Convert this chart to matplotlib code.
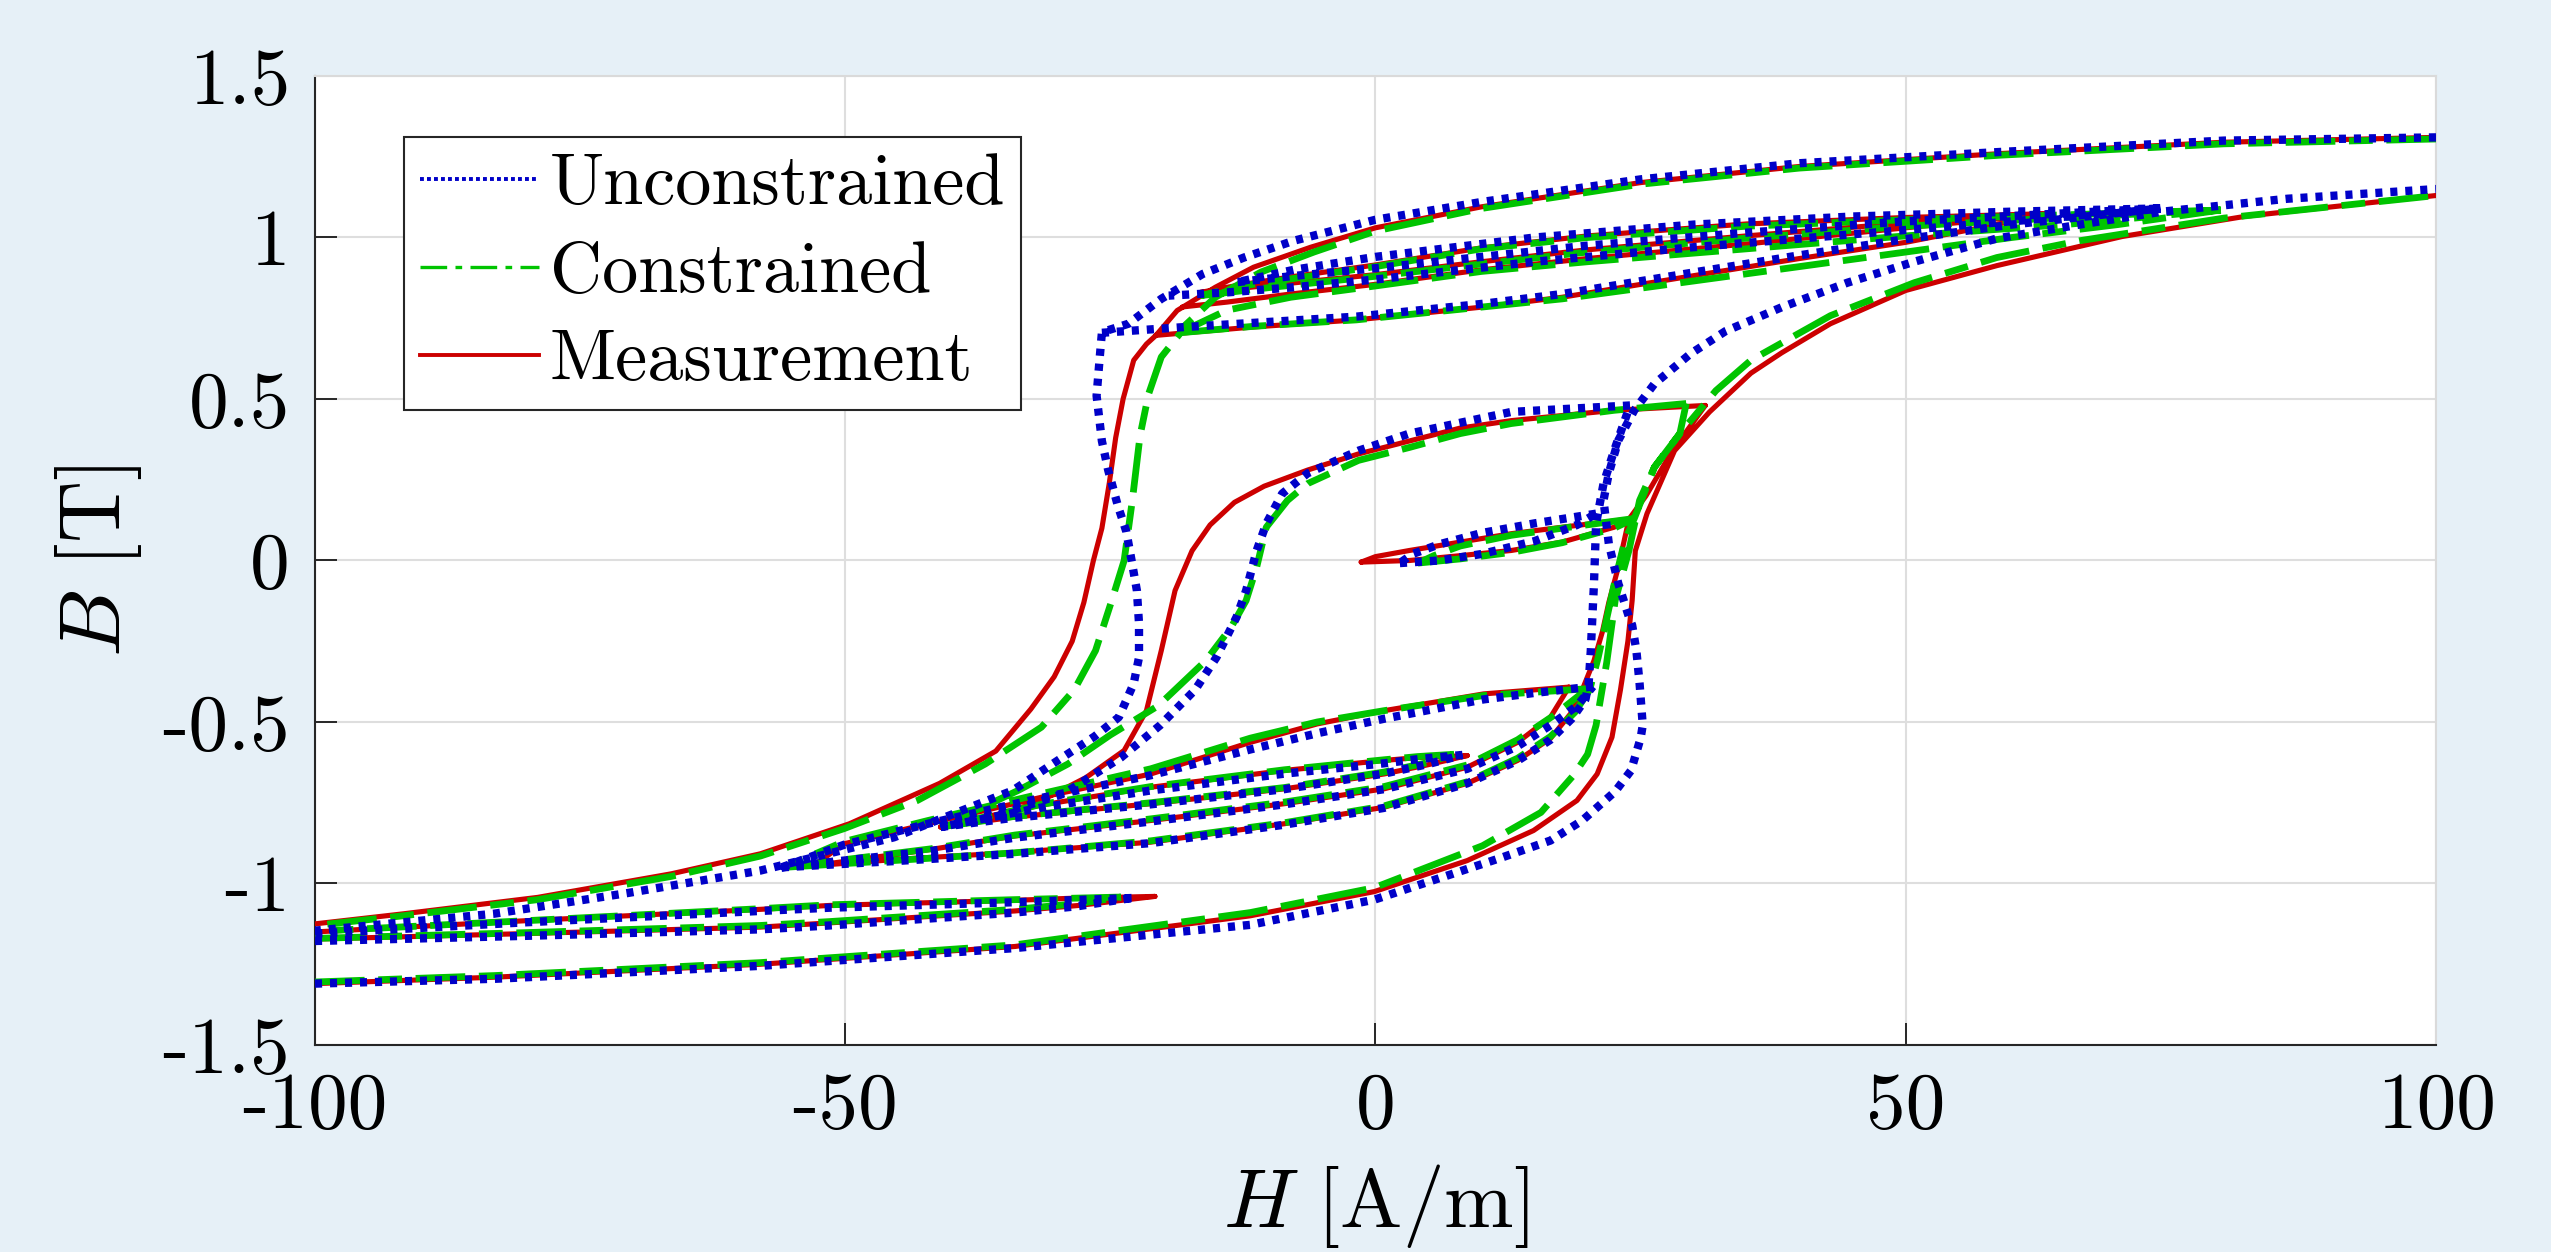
import numpy as np
import matplotlib
matplotlib.use("Agg")
import matplotlib.pyplot as plt
from matplotlib.lines import Line2D

plt.rcParams['mathtext.fontset'] = 'cm'
plt.rcParams['axes.unicode_minus'] = False

# ---------------- data (H [A/m], B [T]) ----------------
# Measurement branches
MEAS_R1_H = [100, 80, 59, 40, 25, 10, 0, -6.1, -11.5, -15.1, -18.7, -20.7, -21.6, -22.8, -23.8, -24.5, -25.1, -25.8, -26.6, -27.5, -28.6, -30.3, -32.5, -35.8, -41.1, -49.6, -58, -66.4, -79, -91.7, -100]
MEAS_R1_B = [1.31, 1.295, 1.26, 1.22, 1.17, 1.095, 1.03, 0.97, 0.908, 0.846, 0.774, 0.697, 0.67, 0.62, 0.50, 0.38, 0.24, 0.10, 0.0, -0.13, -0.25, -0.36, -0.46, -0.59, -0.69, -0.815, -0.908, -0.97, -1.043, -1.094, -1.125]
MEAS_R2_H = [31.1, 22.5, 12.8, 8, 3.2, -1.6, -6.4, -10.5, -13.3, -15.6, -17.3, -18.9, -20.2, -21.6, -23.7, -27.3, -31.5, -36.8, -41]
MEAS_R2_B = [0.48, 0.465, 0.433, 0.41, 0.37, 0.33, 0.28, 0.23, 0.18, 0.11, 0.03, -0.093, -0.279, -0.465, -0.588, -0.672, -0.743, -0.805, -0.825]
MEAS_T2U_H = [8.65, 4, 0.8, -8.6, -21.2, -31.5, -37, -41]
MEAS_T2U_B = [-0.604, -0.61, -0.619, -0.650, -0.702, -0.757, -0.795, -0.825]
MEAS_T2L_H = [-41, -34.2, -21.2, -8.6, 0.8, 5, 8.65]
MEAS_T2L_B = [-0.825, -0.795, -0.753, -0.707, -0.661, -0.632, -0.604]
MEAS_T1U_H = [18.24, 10.2, 0.8, -5.5, -11.8, -21.2, -31.5, -42.2, -50.1, -53]
MEAS_T1U_B = [-0.392, -0.413, -0.465, -0.506, -0.563, -0.661, -0.733, -0.815, -0.877, -0.945]
MEAS_T1L_H = [-53, -42, -34, -21.2, -8.6, 0.8, 8.65, 13.4, 16.5, 18.24]
MEAS_T1L_B = [-0.945, -0.895, -0.853, -0.805, -0.753, -0.707, -0.64, -0.563, -0.485, -0.392]
MEAS_V_H = [-53, -45, -34, -21.2, -8.6, 0.8, 8.65, 13.4, 16.5, 18.4, 19.6, 20.6, 21.4, 22.0, 22.9, 23.9, 25.5, 28, 31.1]
MEAS_V_B = [-0.945, -0.925, -0.904, -0.872, -0.815, -0.764, -0.69, -0.619, -0.551, -0.474, -0.392, -0.31, -0.22, -0.13, -0.02, 0.128, 0.2, 0.34, 0.48]
MEAS_SLU_H = [23.9, 17.6, 12.8, 8, 3.2, 0, -1.35]
MEAS_SLU_B = [0.128, 0.103, 0.083, 0.057, 0.031, 0.012, -0.005]
MEAS_SLL_H = [-1.35, 3.2, 8, 12.8, 17.6, 22.5, 23.9]
MEAS_SLL_B = [-0.005, 0.0, 0.015, 0.031, 0.057, 0.103, 0.128]
MEAS_TLU_H = [-20.8, -28, -34, -51.5, -58, -80, -100]
MEAS_TLU_B = [-1.04, -1.045, -1.052, -1.068, -1.08, -1.115, -1.15]
MEAS_TLL_H = [-100, -80, -58, -51.5, -34, -28, -20.8]
MEAS_TLL_B = [-1.172, -1.155, -1.135, -1.122, -1.085, -1.068, -1.04]
MEAS_MA_H = [-100, -83, -58, -34, -11.8, -0.1, 8.65, 14.9, 19, 20.9, 22.3, 23.1, 23.8, 24.2, 24.5, 25.6, 28.2, 31.5, 35.4, 38.3, 42.9, 50, 58.6, 70.4, 82.1, 100]
MEAS_MA_B = [-1.31, -1.29, -1.25, -1.195, -1.10, -1.025, -0.929, -0.836, -0.743, -0.661, -0.547, -0.40, -0.25, -0.124, 0.03, 0.145, 0.34, 0.46, 0.58, 0.643, 0.733, 0.836, 0.913, 1.003, 1.066, 1.13]
MEAS_UA_H = [-20.7, -11.5, -1.8, 10.2, 17.6, 30.6, 40, 50, 57, 63.6]
MEAS_UA_B = [0.697, 0.723, 0.745, 0.785, 0.815, 0.885, 0.935, 0.985, 1.03, 1.074]
MEAS_UD1_H = [63.6, 50, 35, 20, 10, 0, -8, -13, -16.5]
MEAS_UD1_B = [1.074, 1.062, 1.042, 1.005, 0.968, 0.915, 0.878, 0.852, 0.83]
MEAS_UA1_H = [-16.5, -10, 0, 10, 20, 35, 50, 63.6]
MEAS_UA1_B = [0.83, 0.852, 0.885, 0.925, 0.962, 1.005, 1.045, 1.074]
MEAS_UD2_H = [63.6, 50, 35, 20, 10, 0, -8, -14, -18.2]
MEAS_UD2_B = [1.074, 1.03, 0.98, 0.935, 0.9, 0.855, 0.825, 0.80, 0.785]

# Constrained model branches
CON_R1_H = [100, 80, 59, 40, 25, 10, 0, -5.8, -10.8, -15.1, -17.9, -18.5, -20.2, -21.4, -22.2, -22.9, -23.7, -24.9, -26.4, -28.4, -31.5, -36.8, -43.2, -50.1, -58, -66.4, -79, -91.7, -100]
CON_R1_B = [1.305, 1.29, 1.255, 1.215, 1.165, 1.09, 1.02, 0.955, 0.893, 0.815, 0.73, 0.70, 0.63, 0.515, 0.387, 0.194, 0.0, -0.127, -0.279, -0.40, -0.516, -0.63, -0.743, -0.83, -0.915, -0.978, -1.05, -1.10, -1.13]
CON_R2_H = [29.3, 22.5, 12.8, 8, 3.2, -1.6, -6.4, -8.3, -10.3, -11.2, -12.2, -13.6, -16, -20.5, -25, -29, -33.7, -41]
CON_R2_B = [0.486, 0.465, 0.424, 0.393, 0.35, 0.31, 0.238, 0.186, 0.103, -0.02, -0.124, -0.206, -0.31, -0.45, -0.54, -0.63, -0.712, -0.825]
CON_T2U_H = [7.4, 4, 0.8, -8.6, -21.2, -31.5, -37, -41]
CON_T2U_B = [-0.600, -0.607, -0.617, -0.648, -0.700, -0.755, -0.795, -0.825]
CON_T2L_H = [-41, -34.2, -21.2, -8.6, 0.8, 5, 7.4]
CON_T2L_B = [-0.825, -0.793, -0.750, -0.703, -0.655, -0.625, -0.600]
CON_T1U_H = [20, 10.2, 0.8, -5.5, -11.8, -21.2, -31.5, -42.2, -50.1, -55.8]
CON_T1U_B = [-0.397, -0.418, -0.465, -0.5, -0.55, -0.645, -0.722, -0.805, -0.87, -0.95]
CON_T1L_H = [-55.8, -42, -34, -21.2, -8.6, 0.8, 8.65, 13.4, 16.8, 20]
CON_T1L_B = [-0.95, -0.893, -0.85, -0.80, -0.748, -0.70, -0.633, -0.555, -0.48, -0.397]
CON_V_H = [-55.8, -45, -34, -21.2, -8.6, 0.8, 8.65, 13.4, 16.5, 18.8, 20.2, 21.0, 21.8, 22.6, 23.5, 24.4, 26.3, 28.7, 29.3]
CON_V_B = [-0.95, -0.928, -0.905, -0.868, -0.812, -0.76, -0.685, -0.612, -0.545, -0.47, -0.40, -0.30, -0.18, -0.06, 0.06, 0.13, 0.289, 0.393, 0.486]
CON_SLU_H = [24.4, 17.6, 12.8, 8, 5.5, 4]
CON_SLU_B = [0.13, 0.10, 0.078, 0.045, 0.015, -0.008]
CON_SLL_H = [4, 8, 12.8, 17.6, 22.5, 24.4]
CON_SLL_B = [-0.008, 0.005, 0.025, 0.055, 0.10, 0.13]
CON_TLU_H = [-24, -34, -51.5, -58, -80, -100]
CON_TLU_B = [-1.042, -1.05, -1.066, -1.078, -1.115, -1.148]
CON_TLL_H = [-100, -80, -58, -51.5, -34, -28, -24]
CON_TLL_B = [-1.17, -1.152, -1.13, -1.118, -1.08, -1.062, -1.042]
CON_MA_H = [-100, -83, -58, -34, -11.8, -0.1, 10.1, 15.6, 18.7, 20.0, 20.8, 21.3, 21.8, 22.6, 23.9, 24.9, 26.3, 28.7, 32.1, 35.4, 42.9, 50.8, 58.6, 66.4, 80, 100]
CON_MA_B = [-1.305, -1.285, -1.245, -1.19, -1.09, -1.013, -0.883, -0.78, -0.664, -0.60, -0.51, -0.413, -0.316, -0.124, 0.031, 0.186, 0.289, 0.393, 0.526, 0.62, 0.758, 0.86, 0.938, 0.99, 1.06, 1.13]
CON_UA_H = [-18.5, -11.5, -1.8, 10.2, 17.6, 30.6, 40, 50, 60, 70, 79.7]
CON_UA_B = [0.705, 0.725, 0.745, 0.785, 0.81, 0.868, 0.91, 0.955, 1.0, 1.04, 1.085]
CON_UD1_H = [79.7, 65, 50, 35, 20, 10, 0, -8, -13, -16.5]
CON_UD1_B = [1.085, 1.07, 1.055, 1.035, 1.0, 0.965, 0.91, 0.872, 0.848, 0.82]
CON_UA1_H = [-16.5, -10, 0, 10, 20, 35, 50, 65, 79.7]
CON_UA1_B = [0.82, 0.845, 0.88, 0.918, 0.955, 0.998, 1.035, 1.062, 1.085]
CON_UD2_H = [79.7, 65, 50, 35, 20, 10, 0, -8, -14, -18.5]
CON_UD2_B = [1.085, 1.04, 1.005, 0.965, 0.925, 0.895, 0.85, 0.815, 0.775, 0.705]

# Unconstrained model branches
UNC_R1_H = [100, 80, 59, 40, 25, 10, 0, -7.7, -12.4, -16.3, -20.2, -23.3, -25.3, -25.8, -26.0, -26.3, -25.8, -25.2, -24.3, -23.5, -23.0, -22.5, -22.3, -22.3, -22.8, -24.2, -26.5, -30, -34.2, -45.4, -58, -70.6, -83.2, -100]
UNC_R1_B = [1.31, 1.3, 1.265, 1.23, 1.18, 1.11, 1.055, 0.99, 0.938, 0.887, 0.81, 0.733, 0.712, 0.705, 0.63, 0.51, 0.37, 0.279, 0.17, 0.09, 0.0, -0.093, -0.195, -0.3, -0.381, -0.485, -0.545, -0.62, -0.712, -0.857, -0.96, -1.03, -1.094, -1.146]
UNC_R2_H = [24, 12.8, 3.2, -1.6, -6.4, -8.8, -10.3, -11.2, -12.2, -13.1, -15, -17, -20.3, -24, -29.4, -35.3, -41]
UNC_R2_B = [0.48, 0.46, 0.393, 0.34, 0.27, 0.207, 0.114, 0.031, -0.093, -0.175, -0.30, -0.40, -0.51, -0.61, -0.722, -0.785, -0.825]
UNC_T2U_H = [8.2, 4, 0.8, -8.6, -21.2, -31.5, -37, -41]
UNC_T2U_B = [-0.602, -0.615, -0.628, -0.66, -0.712, -0.765, -0.80, -0.825]
UNC_T2L_H = [-41, -34.2, -21.2, -8.6, 0.8, 5, 8.2]
UNC_T2L_B = [-0.825, -0.797, -0.755, -0.708, -0.66, -0.63, -0.602]
UNC_T1U_H = [20.5, 15, 10.2, 0.8, -5.5, -11.8, -21.2, -31.5, -42.2, -50.1, -56]
UNC_T1U_B = [-0.39, -0.41, -0.43, -0.49, -0.535, -0.585, -0.665, -0.735, -0.815, -0.88, -0.95]
UNC_T1L_H = [-56, -42, -34, -21.2, -8.6, 0.8, 8.65, 13.4, 16.5, 19, 20.5]
UNC_T1L_B = [-0.95, -0.9, -0.858, -0.808, -0.755, -0.708, -0.645, -0.575, -0.51, -0.45, -0.39]
UNC_V_H = [-56, -45, -34, -21.2, -8.6, 0.8, 8.65, 13.4, 16.5, 18.5, 19.8, 20.1, 20.3, 20.6, 20.8, 21.5, 22.5, 24.0]
UNC_V_B = [-0.95, -0.93, -0.908, -0.875, -0.818, -0.766, -0.69, -0.62, -0.555, -0.49, -0.43, -0.38, -0.279, -0.072, 0.114, 0.238, 0.34, 0.48]
UNC_SLU_H = [20.8, 15, 10, 6, 3.5, 2.3]
UNC_SLU_B = [0.145, 0.115, 0.085, 0.05, 0.02, -0.008]
UNC_SLL_H = [2.3, 6, 10, 15, 19, 20.8]
UNC_SLL_B = [-0.008, 0.0, 0.02, 0.06, 0.11, 0.145]
UNC_TLU_H = [-23, -34, -51.5, -58, -80, -100]
UNC_TLU_B = [-1.045, -1.058, -1.075, -1.085, -1.12, -1.155]
UNC_TLL_H = [-100, -80, -58, -51.5, -34, -28, -23]
UNC_TLL_B = [-1.178, -1.162, -1.142, -1.13, -1.09, -1.07, -1.045]
UNC_MA_H = [-100, -83, -58, -34, -11.8, -0.1, 11.7, 16.5, 19.5, 22.6, 24.1, 25.0, 25.2, 24.9, 24.6, 24.2, 23.9, 22.9, 22.0, 21.5, 22.0, 22.9, 24.4, 26.3, 29.7, 33, 38.3, 44.5, 50.8, 58.6, 66.4, 74.2, 86, 100]
UNC_MA_B = [-1.31, -1.295, -1.255, -1.2, -1.128, -1.05, -0.922, -0.867, -0.805, -0.715, -0.65, -0.55, -0.51, -0.38, -0.279, -0.2, -0.175, -0.072, 0.052, 0.186, 0.27, 0.372, 0.465, 0.547, 0.64, 0.71, 0.784, 0.86, 0.925, 0.997, 1.04, 1.08, 1.12, 1.15]
UNC_UA_H = [-25.8, -17.9, -1.8, 10.2, 17.6, 30.6, 40, 50, 60, 74]
UNC_UA_B = [0.705, 0.723, 0.755, 0.795, 0.825, 0.895, 0.945, 0.995, 1.04, 1.09]
UNC_UD1_H = [74, 60, 45, 30, 15, 0, -7.7, -13]
UNC_UD1_B = [1.09, 1.08, 1.065, 1.04, 1.0, 0.94, 0.9, 0.862]
UNC_UA1_H = [-13, -8, 0, 10, 20, 35, 50, 62, 74]
UNC_UA1_B = [0.862, 0.88, 0.905, 0.94, 0.975, 1.015, 1.05, 1.07, 1.09]
UNC_UD2_H = [74, 60, 45, 30, 15, 0, -8, -14, -19.5]
UNC_UD2_B = [1.09, 1.05, 1.01, 0.97, 0.925, 0.87, 0.845, 0.83, 0.82]

LEGEND_LABELS = ['Unconstrained', 'Constrained', 'Measurement']
X_TICKS = [-100, -50, 0, 50, 100]
X_TICKLABELS = ['-100', '-50', '0', '50', '100']
Y_TICKS = [-1.5, -1, -0.5, 0, 0.5, 1, 1.5]
Y_TICKLABELS = ['-1.5', '-1', '-0.5', '0', '0.5', '1', '1.5']

MEAS = [(MEAS_R1_H, MEAS_R1_B), (MEAS_R2_H, MEAS_R2_B), (MEAS_T2U_H, MEAS_T2U_B), (MEAS_T2L_H, MEAS_T2L_B),
        (MEAS_T1U_H, MEAS_T1U_B), (MEAS_T1L_H, MEAS_T1L_B), (MEAS_V_H, MEAS_V_B), (MEAS_SLU_H, MEAS_SLU_B),
        (MEAS_SLL_H, MEAS_SLL_B), (MEAS_TLU_H, MEAS_TLU_B), (MEAS_TLL_H, MEAS_TLL_B), (MEAS_MA_H, MEAS_MA_B),
        (MEAS_UA_H, MEAS_UA_B), (MEAS_UD1_H, MEAS_UD1_B), (MEAS_UA1_H, MEAS_UA1_B), (MEAS_UD2_H, MEAS_UD2_B)]
CON = [(CON_R1_H, CON_R1_B), (CON_R2_H, CON_R2_B), (CON_T2U_H, CON_T2U_B), (CON_T2L_H, CON_T2L_B),
       (CON_T1U_H, CON_T1U_B), (CON_T1L_H, CON_T1L_B), (CON_V_H, CON_V_B), (CON_SLU_H, CON_SLU_B),
       (CON_SLL_H, CON_SLL_B), (CON_TLU_H, CON_TLU_B), (CON_TLL_H, CON_TLL_B), (CON_MA_H, CON_MA_B),
       (CON_UA_H, CON_UA_B), (CON_UD1_H, CON_UD1_B), (CON_UA1_H, CON_UA1_B), (CON_UD2_H, CON_UD2_B)]
UNC = [(UNC_R1_H, UNC_R1_B), (UNC_R2_H, UNC_R2_B), (UNC_T2U_H, UNC_T2U_B), (UNC_T2L_H, UNC_T2L_B),
       (UNC_T1U_H, UNC_T1U_B), (UNC_T1L_H, UNC_T1L_B), (UNC_V_H, UNC_V_B), (UNC_SLU_H, UNC_SLU_B),
       (UNC_SLL_H, UNC_SLL_B), (UNC_TLU_H, UNC_TLU_B), (UNC_TLL_H, UNC_TLL_B), (UNC_MA_H, UNC_MA_B),
       (UNC_UA_H, UNC_UA_B), (UNC_UD1_H, UNC_UD1_B), (UNC_UA1_H, UNC_UA1_B), (UNC_UD2_H, UNC_UD2_B)]


def join(branches):
    hs, bs = [], []
    for h, b in branches:
        hs.extend(h + [np.nan])
        bs.extend(b + [np.nan])
    return np.array(hs), np.array(bs)


RED = '#CC0000'
GREEN = '#00C400'
BLUE = '#0000C8'
BG = '#E6F0F7'

fig = plt.figure(figsize=(25.51, 12.52), dpi=100, facecolor=BG)
ax = fig.add_axes([0.12348, 0.16534, 0.83144, 0.77396])
ax.set_facecolor('white')

h, b = join(MEAS)
ax.plot(h, b, color=RED, lw=3.7, solid_joinstyle='round', solid_capstyle='round', zorder=3)
h, b = join(CON)
ax.plot(h, b, color=GREEN, lw=4.9, linestyle=(0, (7.3, 2.0, 3.5, 2.0)), zorder=4)
h, b = join(UNC)
ax.plot(h, b, color=BLUE, lw=6.0, linestyle=(0, (0.85, 0.95)), zorder=5)

ax.set_xlim(-100, 100)
ax.set_ylim(-1.5, 1.5)
ax.set_xticks(X_TICKS)
ax.set_xticklabels(X_TICKLABELS, fontfamily='cmr10', fontsize=57)
ax.set_yticks(Y_TICKS)
ax.set_yticklabels(Y_TICKLABELS, fontfamily='cmr10', fontsize=57)
ax.tick_params(direction='in', length=15.5, width=1.4, color='#262626', pad=18)
ax.tick_params(axis='x', pad=20)
ax.tick_params(top=False, right=False)
ax.grid(True, color='#DEDEDE', lw=1.5)
ax.set_axisbelow(True)
for s in ['left', 'bottom']:
    ax.spines[s].set_color('#262626')
    ax.spines[s].set_linewidth(1.5)
for s in ['top', 'right']:
    ax.spines[s].set_color('#DADADA')
    ax.spines[s].set_linewidth(1.5)

ax.set_xlabel(r'$H\ [\mathrm{A/m}]$', fontsize=60, va='center')
ax.xaxis.set_label_coords(0.5, -0.166)
ax.set_ylabel(r'$B\ [\mathrm{T}]$', fontsize=62, va='center', ha='center')
ax.yaxis.set_label_coords(-0.102, 0.5)

handles = [Line2D([], [], color=BLUE, lw=2.8, linestyle=(0, (1, 0.8))),
           Line2D([], [], color=GREEN, lw=2.4, linestyle=(0, (8, 2.5, 2, 2.5))),
           Line2D([], [], color=RED, lw=2.8)]
leg = ax.legend(handles, LEGEND_LABELS, loc='upper left', bbox_to_anchor=(0.042, 0.937),
                prop={'family': 'cmr10', 'size': 52}, frameon=True, fancybox=False,
                edgecolor='#262626', framealpha=1.0, borderpad=0.22, labelspacing=0.32,
                handlelength=1.65, handletextpad=0.15, borderaxespad=0.0)
leg.get_frame().set_linewidth(1.5)

fig.savefig('out.png', dpi=100, facecolor=BG)
